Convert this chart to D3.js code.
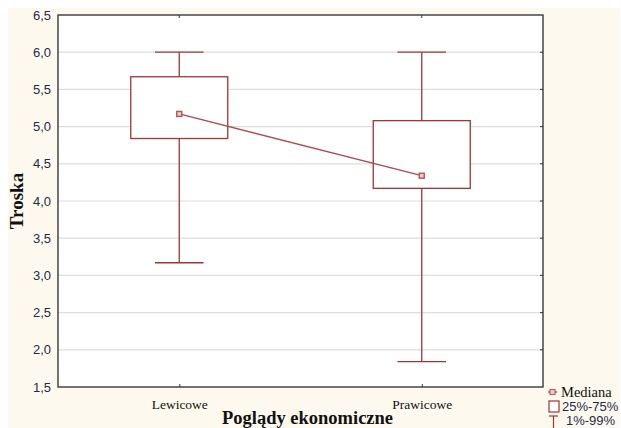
<!DOCTYPE html>
<html>
<head>
<meta charset="utf-8">
<script src="https://cdn.jsdelivr.net/npm/d3@7"></script>
<style>
  body { margin: 0; background: #fff; }
  svg { display: block; }
</style>
</head>
<body>
<svg id="chart" width="621" height="428"></svg>
<script>
// data
const categories = ['Lewicowe', 'Prawicowe'];
const medians = [5.17, 4.34];
const q25 = [4.84, 4.17];
const q75 = [5.67, 5.08];
const p01 = [3.17, 1.84];
const p99 = [6.0, 6.0];
const yTicks = [1.5, 2.0, 2.5, 3.0, 3.5, 4.0, 4.5, 5.0, 5.5, 6.0, 6.5];

const W = 621, H = 428;
const margin = {top: 15, right: 78, bottom: 41, left: 58};
const red = '#a23437';
const serif = 'Liberation Serif, Times New Roman, serif';
const sans = 'Liberation Sans, Arial, sans-serif';

const svg = d3.select('#chart');

// cream page background
svg.append('rect')
    .attr('x', 8).attr('y', 8)
    .attr('width', 612).attr('height', H - 8)
    .attr('fill', '#fdf9ee');

const x = d3.scalePoint()
    .domain(categories)
    .range([margin.left, W - margin.right])
    .padding(0.5);

const y = d3.scaleLinear()
    .domain([1.5, 6.5])
    .range([H - margin.bottom, margin.top]);

const step = x.step();
const boxW = step * 0.4;
const capW = boxW / 2;

// plot area
svg.append('rect')
    .attr('x', margin.left).attr('y', margin.top)
    .attr('width', W - margin.right - margin.left)
    .attr('height', H - margin.bottom - margin.top)
    .attr('fill', '#fff');

// grid
svg.append('g')
  .selectAll('line')
  .data(yTicks.slice(1, -1))
  .join('line')
    .attr('x1', margin.left).attr('x2', W - margin.right)
    .attr('y1', d => y(d)).attr('y2', d => y(d))
    .attr('stroke', '#dedede')
    .attr('stroke-width', 1.2);

const fmt = d => d3.format('.1f')(d).replace('.', ',');

// y axis
const yAxis = svg.append('g')
    .attr('transform', `translate(${margin.left},0)`)
    .call(d3.axisLeft(y).tickValues(yTicks).tickFormat(fmt).tickSize(0).tickPadding(7));
yAxis.select('.domain').remove();
yAxis.selectAll('text')
    .attr('fill', '#1d2b47')
    .style('font-family', sans)
    .style('font-size', '13px');

// inward ticks on right frame
svg.append('g')
  .selectAll('line')
  .data(yTicks.slice(1, -1))
  .join('line')
    .attr('x1', W - margin.right - 3).attr('x2', W - margin.right)
    .attr('y1', d => y(d)).attr('y2', d => y(d))
    .attr('stroke', '#333');

// x axis labels
const xAxis = svg.append('g')
    .attr('transform', `translate(0,${H - margin.bottom})`)
    .call(d3.axisBottom(x).tickSize(-3).tickPadding(12));
xAxis.select('.domain').remove();
xAxis.selectAll('line').attr('stroke', '#333');
xAxis.selectAll('text')
    .attr('fill', '#111')
    .style('font-family', serif)
    .style('font-size', '13.5px');

// top ticks
svg.append('g')
  .selectAll('line')
  .data(categories)
  .join('line')
    .attr('x1', d => x(d)).attr('x2', d => x(d))
    .attr('y1', margin.top).attr('y2', margin.top + 3)
    .attr('stroke', '#333');

// frame
svg.append('rect')
    .attr('x', margin.left).attr('y', margin.top)
    .attr('width', W - margin.right - margin.left)
    .attr('height', H - margin.bottom - margin.top)
    .attr('fill', 'none')
    .attr('stroke', '#3a3a3a')
    .attr('stroke-width', 1.4);

// boxes
const rows = categories.map((c, i) => ({
  c, med: medians[i], lo: q25[i], hi: q75[i], min: p01[i], max: p99[i]
}));

const g = svg.append('g').selectAll('g')
  .data(rows)
  .join('g')
    .attr('stroke', red)
    .attr('stroke-width', 1.3)
    .attr('fill', 'none');

g.append('line')
    .attr('x1', d => x(d.c)).attr('x2', d => x(d.c))
    .attr('y1', d => y(d.max)).attr('y2', d => y(d.hi));
g.append('line')
    .attr('x1', d => x(d.c)).attr('x2', d => x(d.c))
    .attr('y1', d => y(d.lo)).attr('y2', d => y(d.min));
g.append('line')
    .attr('x1', d => x(d.c) - capW / 2).attr('x2', d => x(d.c) + capW / 2)
    .attr('y1', d => y(d.max)).attr('y2', d => y(d.max));
g.append('line')
    .attr('x1', d => x(d.c) - capW / 2).attr('x2', d => x(d.c) + capW / 2)
    .attr('y1', d => y(d.min)).attr('y2', d => y(d.min));
g.append('rect')
    .attr('x', d => x(d.c) - boxW / 2)
    .attr('y', d => y(d.hi))
    .attr('width', boxW)
    .attr('height', d => y(d.lo) - y(d.hi))
    .attr('fill', '#fff');

// median line
svg.append('path')
    .datum(rows)
    .attr('d', d3.line().x(d => x(d.c)).y(d => y(d.med)))
    .attr('fill', 'none')
    .attr('stroke', '#b04a4d')
    .attr('stroke-width', 1.3);

svg.append('g').selectAll('rect')
  .data(rows)
  .join('rect')
    .attr('x', d => x(d.c) - 2.5).attr('y', d => y(d.med) - 2.5)
    .attr('width', 5).attr('height', 5)
    .attr('fill', '#ecc9c9')
    .attr('stroke', '#b5575a')
    .attr('stroke-width', 1.4);

// axis titles
svg.append('text')
    .attr('transform', `translate(23,${(margin.top + H - margin.bottom) / 2}) rotate(-90)`)
    .attr('text-anchor', 'middle')
    .style('font-family', serif)
    .style('font-weight', 'bold')
    .style('font-size', '19px')
    .attr('fill', '#111')
    .text('Troska');

svg.append('text')
    .attr('x', (margin.left + W - margin.right) / 2 + 7)
    .attr('y', 424)
    .attr('text-anchor', 'middle')
    .style('font-family', serif)
    .style('font-weight', 'bold')
    .style('font-size', '18.5px')
    .attr('fill', '#111')
    .text('Poglądy ekonomiczne');

// legend
const lg = svg.append('g').attr('transform', 'translate(548,0)');
lg.append('line')
    .attr('x1', 0).attr('x2', 9).attr('y1', 392).attr('y2', 392)
    .attr('stroke', red).attr('stroke-width', 1.3);
lg.append('rect')
    .attr('x', 2).attr('y', 389.5).attr('width', 5).attr('height', 5)
    .attr('fill', '#ecc9c9').attr('stroke', '#b5575a');
lg.append('text')
    .attr('x', 13).attr('y', 397)
    .style('font-family', serif)
    .style('font-size', '14.5px')
    .attr('fill', '#111')
    .text('Mediana');
lg.append('rect')
    .attr('x', 1).attr('y', 401).attr('width', 10).attr('height', 11)
    .attr('fill', '#fff').attr('stroke', red).attr('stroke-width', 1.2);
lg.append('text')
    .attr('x', 14).attr('y', 411)
    .style('font-family', sans)
    .style('font-size', '13px')
    .attr('fill', '#1d2b47')
    .text('25%-75%');
lg.append('line')
    .attr('x1', 1).attr('x2', 10).attr('y1', 416).attr('y2', 416)
    .attr('stroke', red).attr('stroke-width', 1.2);
lg.append('line')
    .attr('x1', 5.5).attr('x2', 5.5).attr('y1', 416).attr('y2', 428)
    .attr('stroke', red).attr('stroke-width', 1.2);
lg.append('text')
    .attr('x', 18).attr('y', 424.5)
    .style('font-family', sans)
    .style('font-size', '13px')
    .attr('fill', '#1d2b47')
    .text('1%-99%');
</script>
</body>
</html>
